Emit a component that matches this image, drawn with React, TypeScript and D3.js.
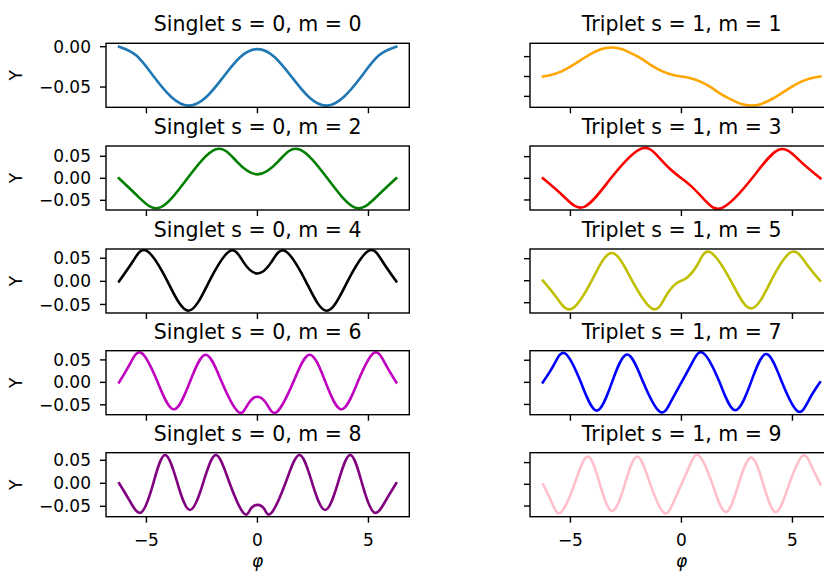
import React from 'react';
import * as d3 from 'd3';

type Pt = [number, number];

// ---------- data (phi, Y) ----------
const singletM0: Pt[] = [[-6.23,0],[-5.45,-0.011],[-4.67,-0.037],[-3.89,-0.062],[-3.11,-0.073],[-2.33,-0.063],[-1.55,-0.038],[-0.78,-0.013],[0,-0.003],[0.78,-0.013],[1.56,-0.038],[2.34,-0.063],[3.12,-0.073],[3.9,-0.062],[4.68,-0.037],[5.46,-0.011],[6.25,0]];
const singletM2: Pt[] = [[-6.24,0],[-5.3,-0.045],[-4.37,-0.066],[-3.15,0],[-1.87,0.066],[-0.93,0.038],[0,0.009],[0.93,0.038],[1.87,0.066],[3.15,0],[4.37,-0.066],[5.3,-0.045],[6.25,0]];
const singletM4: Pt[] = [[-6.23,0],[-5.6,0.044],[-4.98,0.066],[-4.05,0],[-3.11,-0.0635],[-2.17,0],[-1.23,0.066],[-0.62,0.041],[0,0.017],[0.62,0.041],[1.24,0.066],[2.18,0],[3.12,-0.0635],[4.06,0],[5.0,0.066],[5.62,0.044],[6.25,0]];
const singletM6: Pt[] = [[-6.23,0],[-5.72,0.043],[-5.21,0.065],[-4.49,0],[-3.77,-0.06],[-3.05,0],[-2.33,0.0616],[-1.6,0],[-0.86,-0.066],[-0.43,-0.049],[0,-0.032],[0.43,-0.049],[0.87,-0.066],[1.61,0],[2.35,0.0616],[3.07,0],[3.79,-0.06],[4.51,0],[5.23,0.065],[5.74,0.043],[6.25,0]];
const singletM8: Pt[] = [[-6.23,0],[-5.73,-0.04],[-5.22,-0.063],[-4.69,0],[-4.16,0.0616],[-3.6,0],[-3.04,-0.058],[-2.45,0],[-1.87,0.0616],[-1.25,0],[-0.62,-0.065],[-0.31,-0.056],[0,-0.047],[0.31,-0.056],[0.62,-0.065],[1.26,0],[1.89,0.0616],[2.47,0],[3.05,-0.058],[3.62,0],[4.18,0.0616],[4.71,0],[5.24,-0.063],[5.75,-0.04],[6.25,0]];

const tripletM1: Pt[] = [[-6.24,0],[-5.8,0.005],[-5.4,0.013],[-5.0,0.025],[-4.57,0.04],[-4.1,0.056],[-3.6,0.069],[-3.14,0.073],[-2.7,0.069],[-2.25,0.058],[-1.75,0.043],[-1.3,0.026],[-0.85,0.013],[-0.45,0.005],[0,0],[0.45,-0.005],[0.85,-0.013],[1.3,-0.026],[1.75,-0.043],[2.25,-0.058],[2.7,-0.069],[3.14,-0.073],[3.6,-0.069],[4.1,-0.056],[4.57,-0.04],[5.0,-0.025],[5.4,-0.013],[5.8,-0.005],[6.26,0]];
const tripletM3: Pt[] = [[-6.24,0],[-5.3,-0.042],[-4.38,-0.066],[-3.18,0],[-1.88,0.067],[-1.12,0.054],[-0.52,0.022],[0,0],[0.52,-0.022],[1.12,-0.054],[1.88,-0.067],[3.18,0],[4.38,0.066],[5.3,0.042],[6.26,0]];
const tripletM5: Pt[] = [[-6.24,0],[-5.6,-0.04],[-4.94,-0.064],[-4.04,0],[-3.14,0.063],[-2.22,0],[-1.3,-0.064],[-0.75,-0.039],[-0.3,-0.009],[0,0],[0.3,0.009],[0.75,0.039],[1.29,0.065],[2.22,0],[3.14,-0.063],[4.04,0],[4.94,0.065],[5.6,0.04],[6.24,0]];
const tripletM7: Pt[] = [[-6.24,0],[-5.74,0.04],[-5.24,0.0656],[-4.53,0],[-3.82,-0.064],[-3.13,0],[-2.44,0.063],[-1.72,0],[-0.99,-0.066],[-0.5,-0.046],[0,0],[0.5,0.046],[0.99,0.066],[1.72,0],[2.42,-0.063],[3.13,0],[3.82,0.064],[4.53,0],[5.24,-0.0656],[5.74,-0.04],[6.24,0]];
const tripletM9: Pt[] = [[-6.23,0],[-5.83,-0.043],[-5.43,-0.065],[-4.82,0],[-4.22,0.064],[-3.67,0],[-3.12,-0.0615],[-2.55,0],[-1.99,0.064],[-1.4,0],[-0.8,-0.065],[-0.4,-0.046],[0,0],[0.4,0.046],[0.8,0.066],[1.4,0],[2.0,-0.064],[2.57,0],[3.14,0.0615],[3.69,0],[4.25,-0.064],[4.85,0],[5.45,0.065],[5.85,0.043],[6.26,0]];

const singletM = [0, 2, 4, 6, 8];
const tripletM = [1, 3, 5, 7, 9];
const singletSeries = [singletM0, singletM2, singletM4, singletM6, singletM8];
const tripletSeries = [tripletM1, tripletM3, tripletM5, tripletM7, tripletM9];
const singletColors = ['#1f77b4', '#008000', '#000000', '#bf00bf', '#800080'];
const tripletColors = ['#ffa500', '#ff0000', '#bfbf00', '#0000ff', '#ffc0cb'];

// axis ranges
const xDomain: [number, number] = [-6.82, 6.84];
const xTicks = [-5, 0, 5];
const singletYDomains: [number, number][] = [[-0.0751, 0.0042], [-0.072, 0.0734], [-0.0685, 0.070], [-0.072, 0.0705], [-0.0726, 0.0665]];
const tripletYDomains: [number, number][] = [[-0.0775, 0.0835], [-0.0732, 0.0746], [-0.0734, 0.072], [-0.0732, 0.0716], [-0.0746, 0.0728]];
const singletYTicks = [[-0.05, 0], [-0.05, 0, 0.05], [-0.05, 0, 0.05], [-0.05, 0, 0.05], [-0.05, 0, 0.05]];
const tripletYTicks = [[-0.05, 0, 0.05], [-0.05, 0, 0.05], [-0.05, 0, 0.05], [-0.05, 0, 0.05], [-0.05, 0, 0.05]];

// ---------- layout ----------
const W = 824, H = 572;
const colX = [106, 530];
const panelW = 303.3;
const rowTop = [43.3, 146, 249, 350.7, 452.7];
const panelH = 64;
const FONT = "'DejaVu Sans', sans-serif";
const tickFont = 17;
const titleFont = 20.5;
const fmtY = d3.format('.2f');

function Panel({ col, row }: { col: number; row: number }) {
  const x0 = colX[col];
  const y0 = rowTop[row];
  const data = col === 0 ? singletSeries[row] : tripletSeries[row];
  const color = col === 0 ? singletColors[row] : tripletColors[row];
  const yDom = col === 0 ? singletYDomains[row] : tripletYDomains[row];
  const yTicks = col === 0 ? singletYTicks[row] : tripletYTicks[row];
  const title = col === 0 ? `Singlet s = 0, m = ${singletM[row]}` : `Triplet s = 1, m = ${tripletM[row]}`;
  const x = d3.scaleLinear().domain(xDomain).range([x0, x0 + panelW]);
  const y = d3.scaleLinear().domain(yDom).range([y0 + panelH, y0]);
  const line = d3.line<Pt>().x(d => x(d[0])).y(d => y(d[1])).curve(d3.curveNatural);
  const clipId = `clip-${col}-${row}`;
  const isBottom = row === 4;
  const cx = x0 + panelW / 2;
  return (
    <g>
      <defs>
        <clipPath id={clipId}>
          <rect x={x0} y={y0} width={panelW} height={panelH} />
        </clipPath>
      </defs>
      <path d={line(data) || ''} fill="none" stroke={color} strokeWidth={2.6} strokeLinecap="square" clipPath={`url(#${clipId})`} />
      <rect x={x0} y={y0} width={panelW} height={panelH} fill="none" stroke="#000" strokeWidth={1.4} />
      {yTicks.map(t => (
        <g key={`y${t}`}>
          <line x1={x0 - 6} x2={x0} y1={y(t)} y2={y(t)} stroke="#000" strokeWidth={1.4} />
          {col === 0 && (
            <text x={x0 - 15} y={y(t)} dy="0.36em" textAnchor="end" fontFamily={FONT} fontSize={tickFont} fill="#000">{fmtY(t)}</text>
          )}
        </g>
      ))}
      {xTicks.map(t => (
        <g key={`x${t}`}>
          <line x1={x(t)} x2={x(t)} y1={y0 + panelH} y2={y0 + panelH + 6} stroke="#000" strokeWidth={1.4} />
          {isBottom && (
            <text x={x(t)} y={y0 + panelH + 29.5} textAnchor="middle" fontFamily={FONT} fontSize={tickFont} fill="#000">{d3.format('d')(t)}</text>
          )}
        </g>
      ))}
      <text x={cx} y={y0 - 12} textAnchor="middle" fontFamily={FONT} fontSize={titleFont} fill="#000">{title}</text>
      {col === 0 && (
        <text transform={`translate(22,${y0 + panelH / 2}) rotate(-90)`} textAnchor="middle" fontFamily={FONT} fontSize={tickFont} fill="#000">Y</text>
      )}
      {isBottom && (
        <text x={cx} y={567} textAnchor="middle" fontFamily={FONT} fontStyle="italic" fontSize={tickFont} fill="#000">φ</text>
      )}
    </g>
  );
}

export default function App() {
  return (
    <svg width={W} height={H} style={{ position: 'absolute', left: 0, top: 0, display: 'block' }}>
      <rect x={0} y={0} width={W} height={H} fill="#fff" />
      {[0, 1].map(col => [0, 1, 2, 3, 4].map(row => <Panel key={`${col}-${row}`} col={col} row={row} />))}
    </svg>
  );
}
